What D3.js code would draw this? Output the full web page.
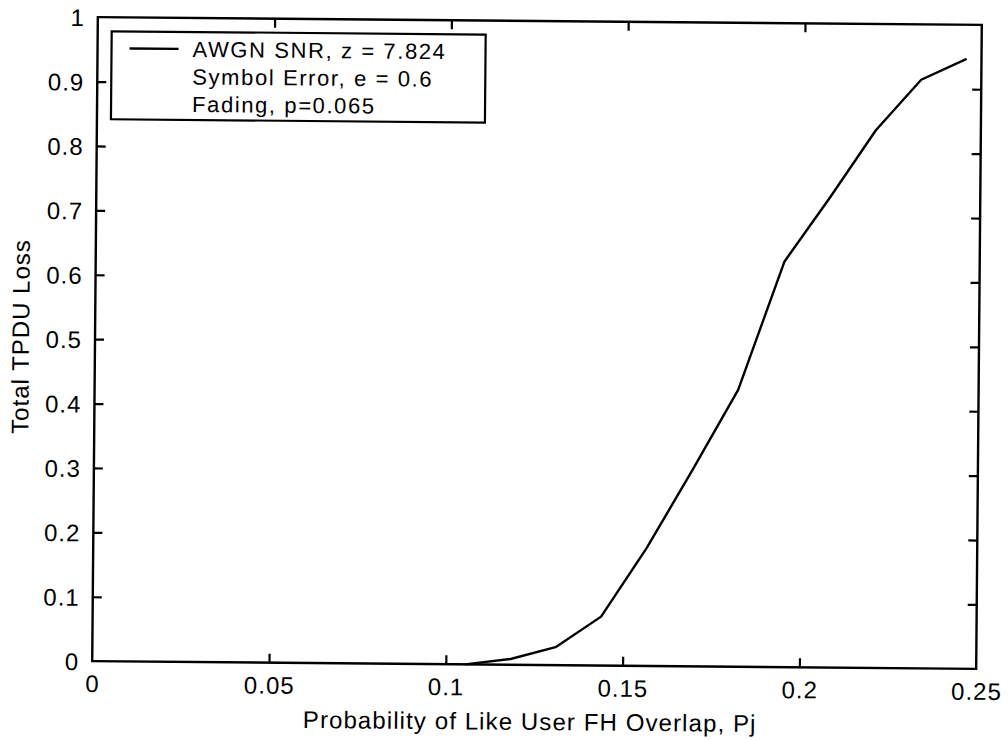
<!DOCTYPE html>
<html>
<head>
<meta charset="utf-8">
<script src="https://cdn.jsdelivr.net/npm/d3@7"></script>
<style>
  html, body { margin: 0; padding: 0; background: #fff; }
  svg { display: block; }
  text { font-family: "Liberation Sans", Arial, sans-serif; fill: #000; }
</style>
</head>
<body>
<svg id="chart" width="1008" height="740"></svg>
<script>
// ---- data ----
const overlapProb = [0.1055, 0.1183, 0.1310, 0.1438, 0.1565, 0.1693, 0.1820, 0.1948, 0.2075, 0.2203, 0.2330, 0.2458];
const tpduLoss    = [0.000, 0.009, 0.028, 0.076, 0.183, 0.305, 0.430, 0.630, 0.730, 0.835, 0.914, 0.947];
const xTickValues = [0, 0.05, 0.1, 0.15, 0.2, 0.25];
const xTickLabels = ["0", "0.05", "0.1", "0.15", "0.2", "0.25"];
const yTickValues = [0, 0.1, 0.2, 0.3, 0.4, 0.5, 0.6, 0.7, 0.8, 0.9, 1];
const yTickLabels = ["0", "0.1", "0.2", "0.3", "0.4", "0.5", "0.6", "0.7", "0.8", "0.9", "1"];
const legendLines = ["AWGN SNR, z = 7.824", "Symbol Error, e = 0.6", "Fading, p=0.065"];
const xLabel = "Probability of Like User FH Overlap, Pj";
const yLabel = "Total TPDU Loss";

// ---- layout ----
const L = 95, R = 979, T = 21, B = 665;
const svg = d3.select("#chart");
const root = svg.append("g").attr("transform", `rotate(0.5, ${(L + R) / 2}, ${(T + B) / 2})`);

const x = d3.scaleLinear().domain([0, 0.25]).range([L, R]);
const y = d3.scaleLinear().domain([0, 1]).range([B, T]);

const tickLen = 9;
const fs = 24;
const ff = '"Liberation Sans", Arial, sans-serif';

// frame
root.append("rect")
  .attr("x", L).attr("y", T).attr("width", R - L).attr("height", B - T)
  .attr("fill", "none").attr("stroke", "#000").attr("stroke-width", 2.4);

// axes via d3 axis (inward ticks)
const xAxisB = d3.axisBottom(x).tickValues(xTickValues).tickSize(-tickLen).tickPadding(14)
  .tickFormat((d, i) => xTickLabels[i]);
const gxb = root.append("g").attr("transform", `translate(0,${B})`).call(xAxisB);
const xAxisT = d3.axisTop(x).tickValues(xTickValues).tickSize(-tickLen).tickFormat("");
const gxt = root.append("g").attr("transform", `translate(0,${T})`).call(xAxisT);
const yAxisL = d3.axisLeft(y).tickValues(yTickValues).tickSize(-tickLen).tickPadding(13)
  .tickFormat((d, i) => yTickLabels[i]);
const gyl = root.append("g").attr("transform", `translate(${L},0)`).call(yAxisL);
const yAxisR = d3.axisRight(y).tickValues(yTickValues).tickSize(-tickLen).tickFormat("");
const gyr = root.append("g").attr("transform", `translate(${R},0)`).call(yAxisR);

[gxb, gxt, gyl, gyr].forEach(g => {
  g.select(".domain").remove();
  g.selectAll(".tick line").attr("stroke", "#000").attr("stroke-width", 2.2);
  g.selectAll(".tick text").attr("font-size", fs).attr("font-family", ff)
    .attr("fill", "#000").attr("letter-spacing", 1);
});
gxb.selectAll(".tick text").attr("dy", "0.71em");
gyl.selectAll(".tick text").attr("dy", "0.36em");
[gxb, gxt].forEach(g => g.selectAll(".tick line").filter(d => d === 0 || d === 0.25).remove());
[gyl, gyr].forEach(g => g.selectAll(".tick line").filter(d => d === 0 || d === 1).remove());

// curve
const line = d3.line().x((d, i) => x(overlapProb[i])).y(d => y(d));
root.append("path")
  .datum(tpduLoss)
  .attr("d", line)
  .attr("fill", "none").attr("stroke", "#000").attr("stroke-width", 2.4)
  .attr("stroke-linejoin", "round");

// axis labels
root.append("text")
  .attr("x", (L + R) / 2 - 4).attr("y", 730)
  .attr("text-anchor", "middle").attr("font-size", fs).attr("letter-spacing", 1.1)
  .text(xLabel);
root.append("text")
  .attr("transform", `translate(29,${(T + B) / 2 - 2}) rotate(-90)`)
  .attr("text-anchor", "middle").attr("font-size", fs).attr("letter-spacing", 1)
  .text(yLabel);

// legend
const lg = root.append("g");
lg.append("rect")
  .attr("x", 109).attr("y", 35).attr("width", 374).attr("height", 88)
  .attr("fill", "#fff").attr("stroke", "#000").attr("stroke-width", 2.2);
lg.append("line")
  .attr("x1", 127).attr("x2", 176).attr("y1", 52).attr("y2", 52)
  .attr("stroke", "#000").attr("stroke-width", 2.4);
lg.selectAll("text.leg").data(legendLines).enter().append("text")
  .attr("class", "leg")
  .attr("x", 190).attr("y", (d, i) => 60 + i * 27.5)
  .attr("font-size", 22).attr("letter-spacing", 1.6)
  .text(d => d);
</script>
</body>
</html>
